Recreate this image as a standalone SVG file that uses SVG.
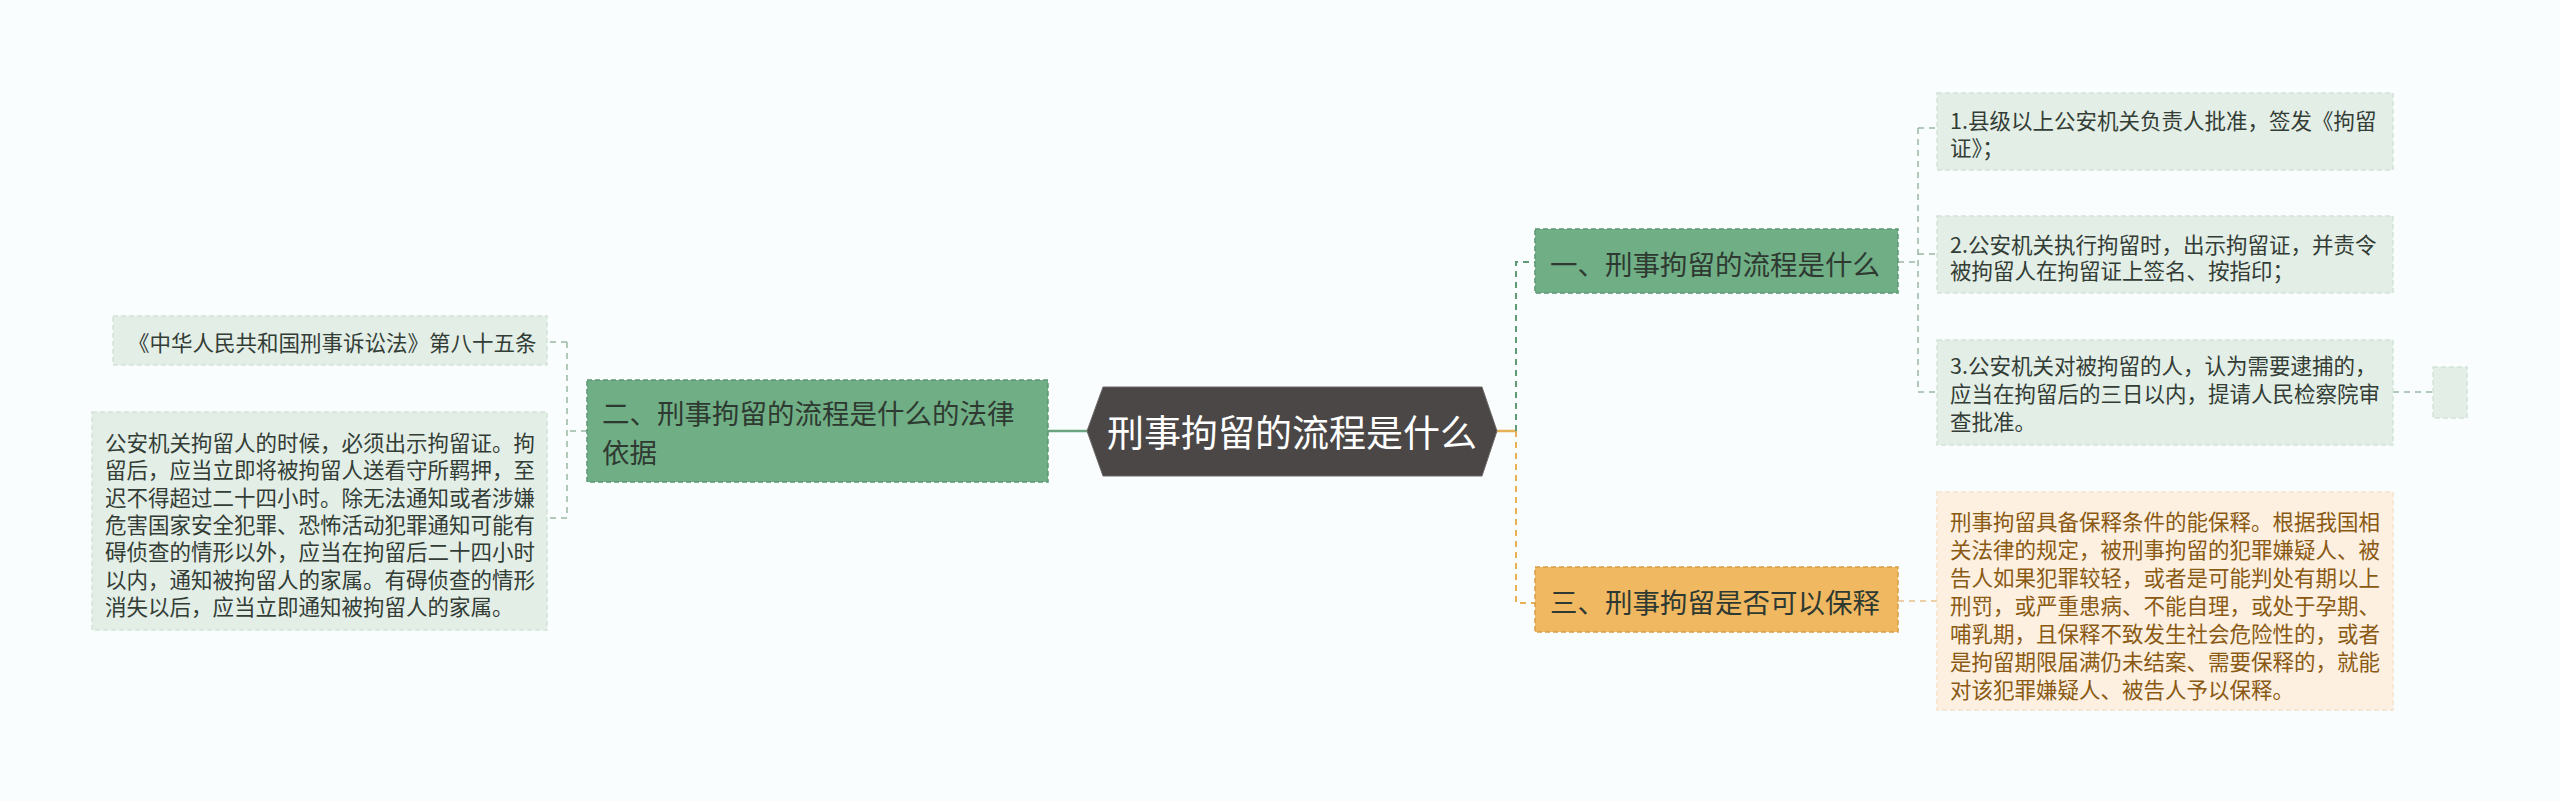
<svg xmlns="http://www.w3.org/2000/svg" width="2560" height="801" viewBox="0 0 2560 801">
<style>
text{font-family:"Noto Sans CJK SC","Noto Sans",sans-serif;dominant-baseline:central}
.g2{fill:#70ae85;stroke:#5b9670;stroke-width:1.5;stroke-dasharray:5 3}
.o2{fill:#f1b862;stroke:#d89c45;stroke-width:1.5;stroke-dasharray:5 3}
.gl{fill:#e3eee6;stroke:#d3e3d8;stroke-width:1.5;stroke-dasharray:5 3}
.ol{fill:#fdf0e0;stroke:#f5e2cb;stroke-width:1.5;stroke-dasharray:5 3}
.t2{font-size:27.5px;fill:#2e3a31}
.tl{font-size:21.5px;fill:#333d36}
.to{font-size:21.5px;fill:#8a5a14}
.cg{fill:none;stroke:#5f9c76;stroke-width:2;stroke-dasharray:6 5}
.co{fill:none;stroke:#e8b055;stroke-width:2;stroke-dasharray:6 5}
.cgl{fill:none;stroke:#9ab8a4;stroke-width:1.5;stroke-dasharray:6 5}
.col{fill:none;stroke:#e8c089;stroke-width:1.5;stroke-dasharray:6 5}
</style>
<rect width="2560" height="801" fill="#f9fdfd"/>
<g id="connectors">
<path d="M1087 431 H1048" stroke="#6aa57f" stroke-width="2.5" fill="none"/>
<path d="M587 431 H567 M567 342 V518 M567 342 H547 M567 518 H547" class="cgl"/>
<path d="M1497 431 H1516" stroke="#e8b055" stroke-width="2.5" fill="none"/>
<path d="M1516 431 V262 H1535" class="cg"/>
<path d="M1516 431 V603 H1535" class="co"/>
<path d="M1898 262 H1918 M1918 128 V392 M1918 128 H1937 M1918 254 H1937 M1918 392 H1937" class="cgl"/>
<path d="M2393 392 H2433" class="cgl"/>
<path d="M1898 601 H1937" class="col"/>
</g>
<g id="center">
<polygon points="1087,431 1103,387 1482,387 1497,431 1482,476 1103,476" fill="#4b4747" stroke="#6b6767" stroke-width="1"/>
<text x="1292" y="431" font-size="37" fill="#ffffff" text-anchor="middle">刑事拘留的流程是什么</text>
</g>
<g id="node-er">
<rect x="587" y="380" width="461" height="102" class="g2"/>
<text class="t2" x="602"><tspan x="602" y="412">二、刑事拘留的流程是什么的法律</tspan><tspan x="602" y="451">依据</tspan></text>
</g>
<g id="leaf-law">
<rect x="113" y="316" width="434" height="49" class="gl"/>
<text class="tl" x="128" y="341" font-size="21">《中华人民共和国刑事诉讼法》第八十五条</text>
</g>
<g id="leaf-law-text">
<rect x="92" y="412" width="455" height="218" class="gl"/>
<text class="tl"><tspan x="105" y="441">公安机关拘留人的时候，必须出示拘留证。拘</tspan><tspan x="105" y="468.3">留后，应当立即将被拘留人送看守所羁押，至</tspan><tspan x="105" y="495.6">迟不得超过二十四小时。除无法通知或者涉嫌</tspan><tspan x="105" y="522.9">危害国家安全犯罪、恐怖活动犯罪通知可能有</tspan><tspan x="105" y="550.2">碍侦查的情形以外，应当在拘留后二十四小时</tspan><tspan x="105" y="577.5">以内，通知被拘留人的家属。有碍侦查的情形</tspan><tspan x="105" y="604.8">消失以后，应当立即通知被拘留人的家属。</tspan></text>
</g>
<g id="node-yi">
<rect x="1535" y="229" width="363" height="64" class="g2"/>
<text class="t2" x="1550" y="263">一、刑事拘留的流程是什么</text>
</g>
<g id="node-san">
<rect x="1535" y="567" width="363" height="65" class="o2"/>
<text class="t2" x="1550" y="601">三、刑事拘留是否可以保释</text>
</g>
<g id="leaf-1">
<rect x="1937" y="93" width="456" height="77" class="gl"/>
<text class="tl"><tspan x="1950" y="119">1.县级以上公安机关负责人批准，签发《拘留</tspan><tspan x="1950" y="146">证》；</tspan></text>
</g>
<g id="leaf-2">
<rect x="1937" y="216" width="456" height="77" class="gl"/>
<text class="tl"><tspan x="1950" y="243">2.公安机关执行拘留时，出示拘留证，并责令</tspan><tspan x="1950" y="269">被拘留人在拘留证上签名、按指印；</tspan></text>
</g>
<g id="leaf-3">
<rect x="1937" y="340" width="456" height="105" class="gl"/>
<text class="tl"><tspan x="1950" y="364">3.公安机关对被拘留的人，认为需要逮捕的，</tspan><tspan x="1950" y="392">应当在拘留后的三日以内，提请人民检察院审</tspan><tspan x="1950" y="420">查批准。</tspan></text>
</g>
<g id="leaf-3-empty">
<rect x="2433" y="367" width="34" height="51" class="gl"/>
</g>
<g id="leaf-bail">
<rect x="1937" y="492" width="456" height="218" class="ol"/>
<text class="to"><tspan x="1950" y="520">刑事拘留具备保释条件的能保释。根据我国相</tspan><tspan x="1950" y="548">关法律的规定，被刑事拘留的犯罪嫌疑人、被</tspan><tspan x="1950" y="576">告人如果犯罪较轻，或者是可能判处有期以上</tspan><tspan x="1950" y="604">刑罚，或严重患病、不能自理，或处于孕期、</tspan><tspan x="1950" y="632">哺乳期，且保释不致发生社会危险性的，或者</tspan><tspan x="1950" y="660">是拘留期限届满仍未结案、需要保释的，就能</tspan><tspan x="1950" y="688">对该犯罪嫌疑人、被告人予以保释。</tspan></text>
</g>
</svg>
